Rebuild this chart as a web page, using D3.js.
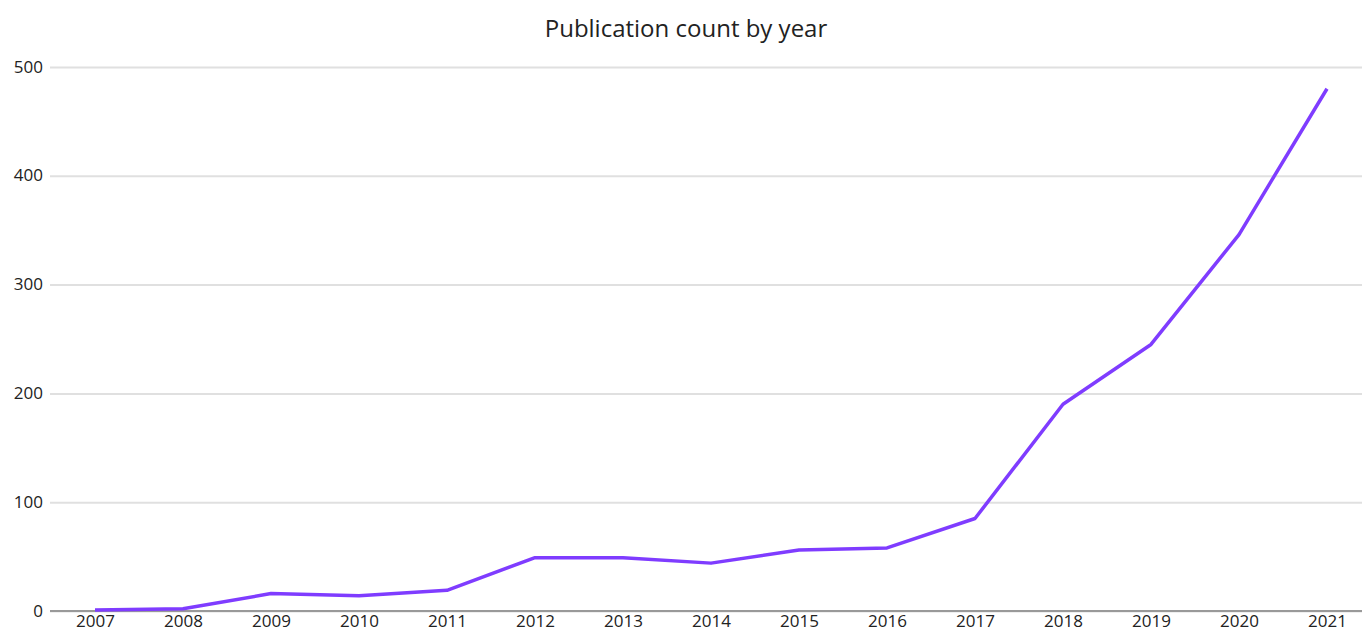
<!DOCTYPE html>
<html>
<head>
<meta charset="utf-8">
<script src="https://cdn.jsdelivr.net/npm/d3@7"></script>
<style>
  body { margin: 0; background: #fff; }
  text { font-family: "Open Sans", "Noto Sans", sans-serif; fill: #222; }
</style>
</head>
<body>
<div id="chart"></div>
<script>
// publication counts
let years = ["2007", "2008", "2009", "2010", "2011", "2012", "2013", "2014",
             "2015", "2016", "2017", "2018", "2019", "2020", "2021"];
let counts = [1, 2, 16, 14, 19, 49, 49, 44, 56, 58, 85, 190, 245, 346, 480];
let yTicks = [0, 100, 200, 300, 400, 500];

const width = 1362, height = 632;
const margin = {top: 67, right: 0, bottom: 21, left: 50};

let svg = d3.select("#chart").append("svg")
    .attr("width", width)
    .attr("height", height);

let xScale = d3.scalePoint()
    .domain(years)
    .range([95, 1327]);

let yScale = d3.scaleLinear()
    .domain([0, 500])
    .range([height - margin.bottom, margin.top]);

// title
svg.append("text")
    .attr("x", 686)
    .attr("y", 37)
    .attr("text-anchor", "middle")
    .style("font-size", "24px")
    .text("Publication count by year");

// gridlines + y labels
let yAxis = svg.append("g")
    .attr("transform", "translate(" + margin.left + ",0)")
    .call(d3.axisLeft(yScale).tickValues(yTicks)
        .tickSize(-(width - margin.left)).tickPadding(7));
yAxis.select(".domain").remove();
yAxis.selectAll(".tick line")
    .attr("stroke", "#e0e0e0")
    .attr("stroke-width", 2)
    .attr("x1", 0);
yAxis.selectAll(".tick text")
    .style("font-size", "17px")
    .attr("dy", "0.3em")
    .attr("fill", "#222");

// x axis
let xAxis = svg.append("g")
    .attr("transform", "translate(0," + yScale(0) + ")")
    .call(d3.axisBottom(xScale).tickSize(0).tickPadding(4));
xAxis.select(".domain").remove();
xAxis.selectAll(".tick text")
    .style("font-size", "17px")
    .attr("fill", "#222");

svg.append("line")
    .attr("x1", margin.left)
    .attr("x2", width)
    .attr("y1", yScale(0))
    .attr("y2", yScale(0))
    .attr("stroke", "#999")
    .attr("stroke-width", 2);

// the series line
let line = d3.line()
    .x((d, i) => xScale(years[i]))
    .y(d => yScale(d));

svg.append("path")
    .datum(counts)
    .attr("d", line)
    .attr("fill", "none")
    .attr("stroke", "#7f3cff")
    .attr("stroke-width", 3.5)
    .attr("stroke-linejoin", "round");
</script>
</body>
</html>
